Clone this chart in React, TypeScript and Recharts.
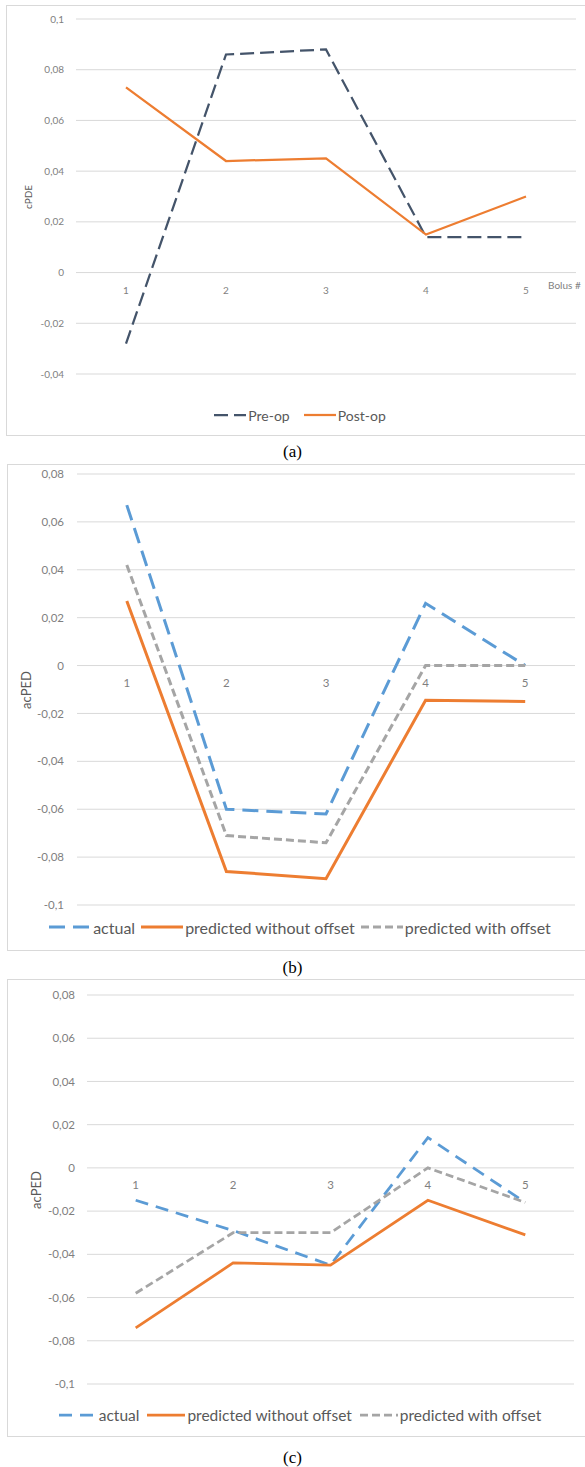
import { LineChart, Line, XAxis, YAxis, CartesianGrid, ReferenceDot } from "recharts";

// shared x categories (bolus number)
const categories = ["1", "2", "3", "4", "5"];

// (a) cPDE pre-op vs post-op
const preOp = [-0.028, 0.086, 0.088, 0.014, 0.014];
const postOp = [0.073, 0.044, 0.045, 0.015, 0.03];

// (b) acPED, pre-op
const actualB = [0.067, -0.06, -0.062, 0.026, 0.0];
const withoutOffsetB = [0.027, -0.086, -0.089, -0.0145, -0.015];
const withOffsetB = [0.042, -0.071, -0.074, 0.0, 0.0];

// (c) acPED, post-op
const actualC = [-0.015, -0.029, -0.045, 0.014, -0.016];
const withoutOffsetC = [-0.074, -0.044, -0.045, -0.015, -0.031];
const withOffsetC = [-0.058, -0.03, -0.03, 0.0, -0.016];

const ticksA = [-0.04, -0.02, 0, 0.02, 0.04, 0.06, 0.08, 0.1];
const ticksBC = [-0.1, -0.08, -0.06, -0.04, -0.02, 0, 0.02, 0.04, 0.06, 0.08];

const FONT = "Lato, 'Open Sans', sans-serif";
const GRID = "#d9d9d9";
const TEXT = "#7f7f7f";
const LEGEND_TEXT = "#595959";

interface Series {
  key: string;
  name: string;
  values: number[];
  color: string;
  dash?: string;
}

interface PanelProps {
  top: number;
  height: number;
  frameLeft: number;
  margin: { top: number; right: number; bottom: number };
  yWidth: number;
  tickGap: number;
  fontSize: number;
  ticks: number[];
  series: Series[];
  strokeWidth: number;
  yLabel: string;
  yLabelX: number;
  yLabelSize: number;
  legendY: number;
  legendSize: number;
  symbolWidth: number;
  legendGap: number;
  caption: string;
  captionY: number;
  xTitle?: { text: string; x: number; y: number };
}

const fmt = (v: number) => String(v).replace(".", ",");

function Panel(p: PanelProps) {
  const data = categories.map((c, i) => {
    const row: Record<string, string | number> = { cat: c };
    p.series.forEach((s) => {
      row[s.key] = s.values[i];
    });
    return row;
  });
  const plotTop = p.top + p.margin.top;
  const plotBottom = p.top + p.height - p.margin.bottom;

  // category labels sit just under the zero line, like Excel's crossing axis
  const catLabel = (c: string) => (props: any) => {
    const vb = props.viewBox || {};
    return (
      <text
        x={vb.x + (vb.width || 0) / 2}
        y={vb.y + 17}
        textAnchor="middle"
        dominantBaseline="central"
        fill={TEXT}
        fontSize={p.fontSize}
        fontFamily={FONT}
      >
        {c}
      </text>
    );
  };

  return (
    <>
      <div
        style={{
          position: "absolute",
          left: p.frameLeft,
          top: p.top,
          width: 640,
          height: p.height - 2,
          border: `1px solid ${GRID}`,
        }}
      />
      <div style={{ position: "absolute", left: 0, top: p.top }}>
        <LineChart
          width={585}
          height={p.height}
          data={data}
          margin={{ top: p.margin.top, right: p.margin.right, bottom: p.margin.bottom, left: 0 }}
        >
          <CartesianGrid vertical={false} stroke={GRID} strokeWidth={1} />
          <XAxis dataKey="cat" scale="band" hide />
          <YAxis
            width={p.yWidth}
            domain={[p.ticks[0], p.ticks[p.ticks.length - 1]]}
            ticks={p.ticks}
            tickFormatter={fmt}
            axisLine={false}
            tickLine={false}
            tickSize={0}
            tickMargin={p.tickGap}
            tick={{ fill: TEXT, fontSize: p.fontSize, fontFamily: FONT }}
          />
          {categories.map((c) => (
            <ReferenceDot
              key={c}
              x={c}
              y={0}
              r={0}
              fill="none"
              stroke="none"
              label={catLabel(c)}
            />
          ))}
          {p.series.map((s) => (
            <Line
              key={s.key}
              type="linear"
              dataKey={s.key}
              name={s.name}
              stroke={s.color}
              strokeWidth={p.strokeWidth}
              strokeDasharray={s.dash}
              dot={false}
              activeDot={false}
              isAnimationActive={false}
            />
          ))}
        </LineChart>
      </div>
      <div
        style={{
          position: "absolute",
          left: p.yLabelX,
          top: (plotTop + plotBottom) / 2,
          transform: "translate(-50%, -50%) rotate(-90deg)",
          whiteSpace: "nowrap",
          fontFamily: FONT,
          fontSize: p.yLabelSize,
          color: LEGEND_TEXT,
        }}
      >
        {p.yLabel}
      </div>
      {p.xTitle && (
        <div
          style={{
            position: "absolute",
            left: p.xTitle.x,
            top: p.xTitle.y,
            transform: "translateY(-50%)",
            whiteSpace: "nowrap",
            fontFamily: FONT,
            fontSize: p.fontSize,
            color: TEXT,
          }}
        >
          {p.xTitle.text}
        </div>
      )}
      <div
        style={{
          position: "absolute",
          left: 0,
          width: 600,
          top: p.legendY - 12,
          height: 24,
          display: "flex",
          justifyContent: "center",
          alignItems: "center",
          gap: p.legendGap,
          fontFamily: FONT,
          fontSize: p.legendSize,
          color: LEGEND_TEXT,
        }}
      >
        {p.series.map((s) => (
          <div key={s.key} style={{ display: "flex", alignItems: "center", gap: 2 }}>
            <svg width={p.symbolWidth} height={8}>
              <line
                x1={0}
                y1={4}
                x2={p.symbolWidth}
                y2={4}
                stroke={s.color}
                strokeWidth={p.strokeWidth}
                strokeDasharray={s.dash}
              />
            </svg>
            <span>{s.name}</span>
          </div>
        ))}
      </div>
      <div
        style={{
          position: "absolute",
          left: 0,
          width: 585,
          top: p.captionY - 10,
          textAlign: "center",
          fontFamily: "'Liberation Serif', 'Times New Roman', serif",
          fontSize: 17,
          lineHeight: "20px",
          color: "#000",
        }}
      >
        {p.caption}
      </div>
    </>
  );
}

export default function App() {
  return (
    <div
      style={{
        position: "absolute",
        left: 0,
        top: 0,
        width: 585,
        height: 1467,
        overflow: "hidden",
        background: "#fff",
      }}
    >
      <Panel
        top={5}
        height={431}
        frameLeft={6}
        margin={{ top: 14, right: 9, bottom: 62 }}
        yWidth={76}
        tickGap={12}
        fontSize={10}
        ticks={ticksA}
        strokeWidth={2.25}
        series={[
          { key: "pre", name: "Pre-op", values: preOp, color: "#44546A", dash: "14 6" },
          { key: "post", name: "Post-op", values: postOp, color: "#ED7D31" },
        ]}
        yLabel="cPDE"
        yLabelX={28}
        yLabelSize={10}
        legendY={415}
        legendSize={14}
        symbolWidth={32}
        legendGap={14}
        caption="(a)"
        captionY={452}
        xTitle={{ text: "Bolus #", x: 548, y: 285 }}
      />
      <Panel
        top={464}
        height={487}
        frameLeft={7}
        margin={{ top: 10, right: 10, bottom: 46 }}
        yWidth={77}
        tickGap={13}
        fontSize={11.5}
        ticks={ticksBC}
        strokeWidth={3}
        series={[
          { key: "actual", name: "actual", values: actualB, color: "#5B9BD5", dash: "16 8" },
          { key: "without", name: "predicted without offset", values: withoutOffsetB, color: "#ED7D31" },
          { key: "with", name: "predicted with offset", values: withOffsetB, color: "#A5A5A5", dash: "8 4" },
        ]}
        yLabel="acPED"
        yLabelX={26}
        yLabelSize={13}
        legendY={927}
        legendSize={16}
        symbolWidth={42}
        legendGap={6}
        caption="(b)"
        captionY={968}
      />
      <Panel
        top={979}
        height={458}
        frameLeft={7}
        margin={{ top: 16, right: 11, bottom: 53 }}
        yWidth={87}
        tickGap={12}
        fontSize={11.5}
        ticks={ticksBC}
        strokeWidth={2.75}
        series={[
          { key: "actual", name: "actual", values: actualC, color: "#5B9BD5", dash: "13 8" },
          { key: "without", name: "predicted without offset", values: withoutOffsetC, color: "#ED7D31" },
          { key: "with", name: "predicted with offset", values: withOffsetC, color: "#A5A5A5", dash: "8 4" },
        ]}
        yLabel="acPED"
        yLabelX={36}
        yLabelSize={13}
        legendY={1415}
        legendSize={15.5}
        symbolWidth={38}
        legendGap={8}
        caption="(c)"
        captionY={1458}
      />
    </div>
  );
}
